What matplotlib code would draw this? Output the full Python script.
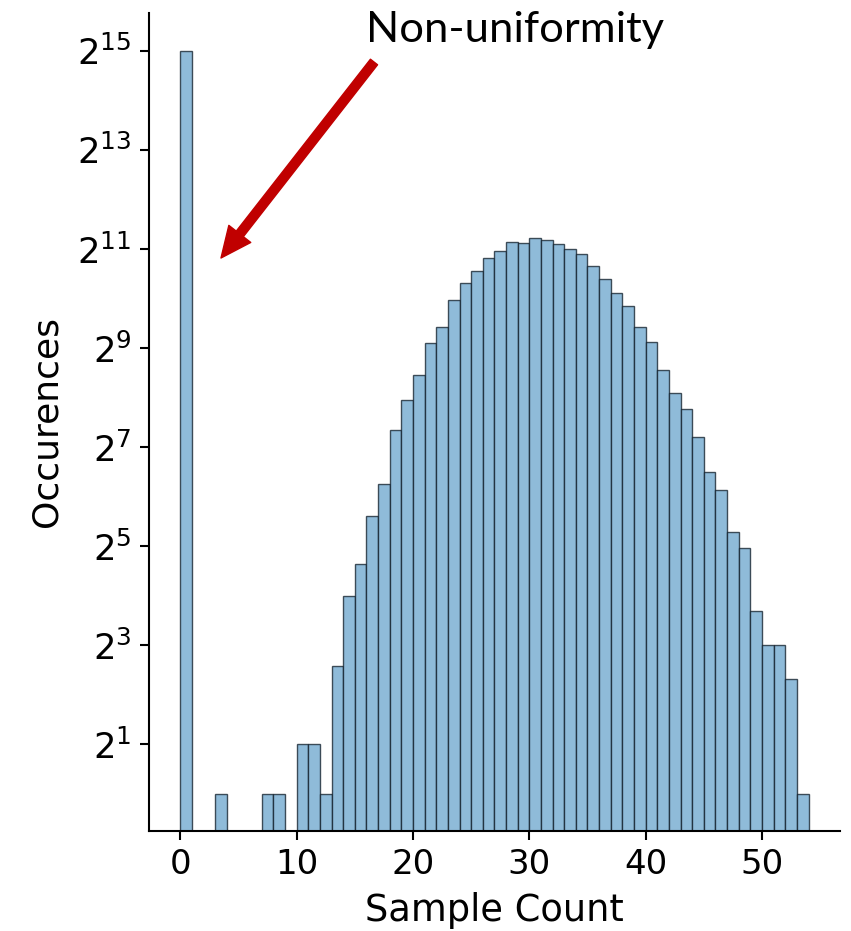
import numpy as np
import matplotlib
matplotlib.use("Agg")
import matplotlib.pyplot as plt
from matplotlib.ticker import FixedLocator, FixedFormatter, NullLocator

# Histogram of sample counts (bin start -> occurrences)
BIN_STARTS = list(range(0, 54))
COUNTS = [
    32768, 0, 0, 1, 0, 0, 0, 1, 1, 0,      # 0-9
    2, 2, 1, 6, 16, 25, 49, 76, 162, 246,   # 10-19
    350, 546, 689, 1000, 1264, 1502, 1808, 1995, 2263, 2232,  # 20-29
    2396, 2316, 2191, 2035, 1897, 1608, 1342, 1110, 925, 689,  # 30-39
    554, 374, 274, 218, 147, 90, 70, 39, 31, 13,  # 40-49
    8, 8, 5, 1,                             # 50-53
]
Y_EXPONENTS = [1, 3, 5, 7, 9, 11, 13, 15]
X_TICKS = [0, 10, 20, 30, 40, 50]

FACE = "#8fbbd9"
ARROW_RED = "#c00000"

fig = plt.figure(figsize=(8.51, 9.31), dpi=100)
ax = fig.add_axes([0.175, 0.1074, 0.812, 0.879])

x = np.array(BIN_STARTS)
y = np.array(COUNTS, dtype=float)
keep = y > 0
ax.bar(x[keep], y[keep], width=1.0, align="edge", bottom=0,
       facecolor=FACE, edgecolor=(0.05, 0.1, 0.15, 0.75), linewidth=1.0)

ax.set_yscale("log", base=2)
ax.set_ylim(2 ** -0.75, 2 ** 15.77)
ax.set_xlim(-2.7, 56.7)

ax.yaxis.set_major_locator(FixedLocator([2.0 ** k for k in Y_EXPONENTS]))
ax.yaxis.set_major_formatter(FixedFormatter([f"$2^{{{k}}}$" for k in Y_EXPONENTS]))
ax.yaxis.set_minor_locator(NullLocator())
ax.set_xticks(X_TICKS)

for side in ("top", "right"):
    ax.spines[side].set_visible(False)
for side in ("left", "bottom"):
    ax.spines[side].set_linewidth(1.5)
ax.tick_params(axis="x", which="major", labelsize=24.5, length=6.5, width=1.5, pad=6)
ax.tick_params(axis="y", which="major", labelsize=25.5, length=6.5, width=1.5, pad=6)

ax.set_xlabel("Sample Count", fontsize=26.5, labelpad=8)
ax.set_ylabel("Occurences", fontsize=26, labelpad=10)

# annotation added on top of the plot
fig.text(515 / 851, 1 - 30 / 931, "Non-uniformity", fontsize=31.3, family="Lato",
         ha="center", va="center")
ax.annotate("", xy=(221 / 851, 1 - 258 / 931), xytext=(374 / 851, 1 - 62 / 931),
            xycoords="figure fraction", textcoords="figure fraction",
            arrowprops=dict(arrowstyle="simple,head_length=2.2,head_width=2.0,tail_width=0.65",
                            mutation_scale=10, color=ARROW_RED, shrinkA=0, shrinkB=0))

fig.savefig("out.png", dpi=100)
